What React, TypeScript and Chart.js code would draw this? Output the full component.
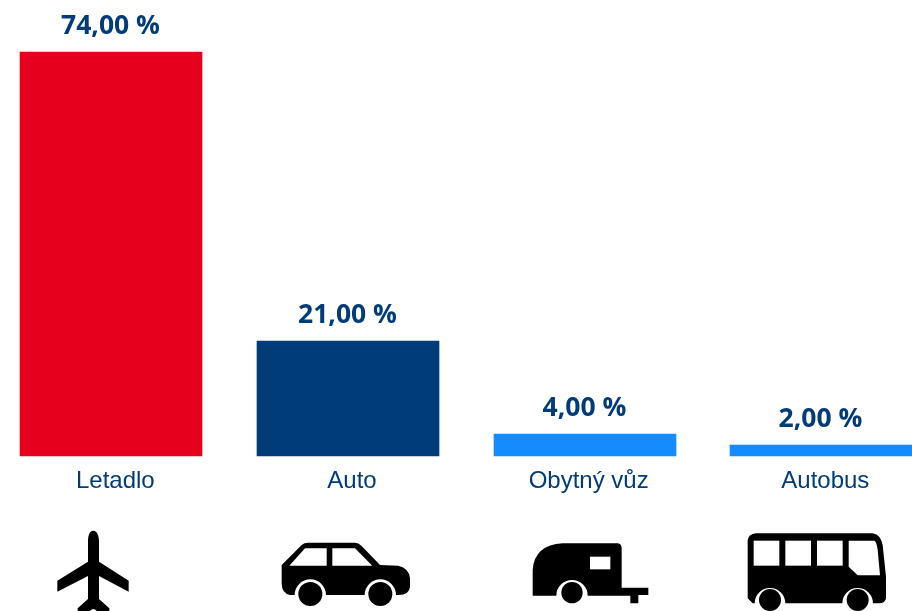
import React, { useEffect, useRef } from "react";
import { Chart, registerables } from "chart.js";

Chart.register(...registerables);

const categories = ["Letadlo", "Auto", "Obytný vůz", "Autobus"];
const shares = [74, 21, 4, 2];
const barColors = ["#E6001E", "#003C78", "#148CFF", "#148CFF"];
const NAVY = "#003C78";

const fmt = (v: number) => v.toFixed(2).replace(".", ",") + " %";

type Icon = { shift: number; body: string; holes: string[]; wheels: [number, number, number][] };

const rect = (x1: number, y1: number, x2: number, y2: number) => `M${x1} ${y1}L${x2} ${y1}L${x2} ${y2}L${x1} ${y2}Z`;

// Icon outlines are drawn in a 3x local space; `shift` moves that space onto the category centre.
const icons: Icon[] = [
  {
    shift: -111,
    body: "M280 242C268 242 264 258 264 275L264 335L172 392L172 425L264 378L264 447L233 475L233 490L265 490Q280 464 295 490L328 490L328 475L297 447L297 378L386 425L386 392L297 335L297 275C297 258 292 242 280 242Z",
    holes: [],
    wheels: [],
  },
  {
    shift: -348,
    body: "M845 345L905 285Q912 278 925 278L1065 278Q1075 278 1085 288L1140 345L1195 347Q1228 355 1230 385L1230 410Q1228 435 1195 435L1188 435A47 47 0 1 0 1094 435L978 435A47 47 0 1 0 884 435L870 435Q845 430 845 400Z",
    holes: ["M868 347L915 295L980 295L980 347Z", "M997 295L1065 295L1117 347L997 347Z"],
    wheels: [[931, 432, 36], [1141, 432, 36]],
  },
  {
    shift: -129,
    body: "M230 437L230 360Q235 285 320 280L485 280Q497 282 497 295L497 413L577 413L577 435L547 435L547 460L523 460L523 437L395 437A47 47 0 1 0 301 437Z",
    holes: [rect(402, 320, 463, 358)],
    wheels: [[348, 428, 32]],
  },
  {
    shift: -365,
    body: "M875 270Q878 252 900 250L1250 250Q1275 255 1280 285L1290 380L1290 445Q1288 460 1270 460L1251 460A46 46 0 1 0 1159 460L988 460A46 46 0 1 0 896 460L890 460L875 445Z",
    holes: [
      rect(893, 272, 970, 347),
      rect(988, 272, 1065, 347),
      rect(1083, 272, 1160, 347),
      "M1178 272L1255 272Q1262 275 1265 300L1272 376L1205 376L1178 350Z",
    ],
    wheels: [[942, 450, 33], [1205, 450, 33]],
  },
];

const overlay = {
  id: "overlay",
  beforeDatasetsDraw(chart: any) {
    chart.getDatasetMeta(0).data.forEach((bar: any) => {
      bar.x = Math.round(bar.x);
      bar.y = Math.round(bar.y);
    });
  },
  afterDatasetsDraw(chart: any) {
    const { ctx } = chart;
    const meta = chart.getDatasetMeta(0);
    ctx.save();
    ctx.font = '700 26.5px "Open Sans"';
    ctx.fillStyle = NAVY;
    ctx.textAlign = "center";
    ctx.textBaseline = "alphabetic";
    meta.data.forEach((bar: any, i: number) => {
      ctx.fillText(fmt(shares[i]), bar.x - 0.5, bar.y - 18);
    });
    ctx.restore();

    icons.forEach((icon, i) => {
      const x = meta.data[i].x;
      ctx.save();
      ctx.translate(x + icon.shift, 450);
      ctx.scale(1 / 3, 1 / 3);
      ctx.fillStyle = "#000";
      ctx.fill(new Path2D(icon.body));
      icon.wheels.forEach(([cx, cy, r]) => {
        ctx.beginPath();
        ctx.arc(cx, cy, r, 0, Math.PI * 2);
        ctx.fill();
      });
      ctx.fillStyle = "#fff";
      icon.holes.forEach((h) => ctx.fill(new Path2D(h)));
      ctx.restore();
    });
  },
};

export default function App() {
  const ref = useRef<HTMLCanvasElement>(null);
  useEffect(() => {
    const chart = new Chart(ref.current!, {
      type: "bar",
      data: {
        labels: categories,
        datasets: [{ data: shares, backgroundColor: barColors, barThickness: 182, clip: false as any }],
      },
      options: {
        animation: false,
        responsive: false,
        layout: { padding: { left: 111.33, right: 90.67, top: 52, bottom: 0 } },
        plugins: { legend: { display: false }, tooltip: { enabled: false } },
        scales: {
          x: {
            offset: false,
            grid: { display: false },
            border: { display: false },
            ticks: {
              autoSkip: false,
              maxRotation: 0,
              color: NAVY,
              padding: 3,
              labelOffset: 4,
              font: { family: '"Liberation Sans"', size: 24 },
            },
            afterFit(scale: any) {
              scale.height = 155;
            },
          },
          y: { display: false, min: 0, max: 74 },
        },
      },
      plugins: [overlay],
    } as any);
    return () => chart.destroy();
  }, []);
  return (
    <canvas
      ref={ref}
      width={912}
      height={611}
      style={{ position: "absolute", left: 0, top: 0, display: "block" }}
    />
  );
}
